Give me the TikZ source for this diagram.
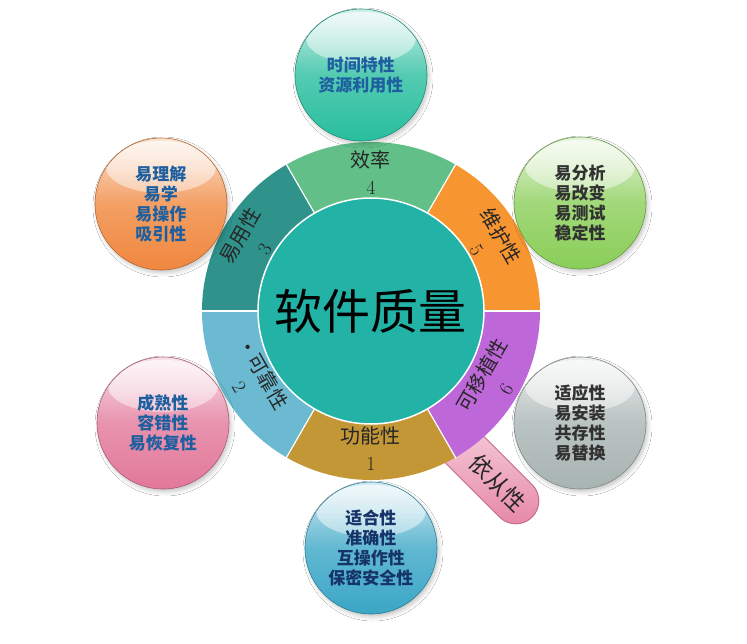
\documentclass[tikz,border=0pt]{standalone}
\usepackage{fontspec}
\newfontfamily\cjk{Noto Sans CJK SC}
\usetikzlibrary{calc,fadings,shadows.blur}

\definecolor{cEff}{RGB}{80,184,122}
\definecolor{cUse}{RGB}{24,134,126}
\definecolor{cRel}{RGB}{90,178,204}
\definecolor{cFun}{RGB}{188,140,32}
\definecolor{cPor}{RGB}{182,86,212}
\definecolor{cMai}{RGB}{246,137,26}
\definecolor{cCore}{RGB}{34,178,166}
\definecolor{bTeal}{RGB}{40,190,158}
\definecolor{bOrange}{RGB}{240,135,62}
\definecolor{bGreen}{RGB}{138,206,88}
\definecolor{bPink}{RGB}{226,120,154}
\definecolor{bGray}{RGB}{168,180,178}
\definecolor{bBlue}{RGB}{58,166,198}
\definecolor{tBlue}{RGB}{30,95,160}
\definecolor{tGray}{RGB}{50,50,50}
\definecolor{tNavy}{RGB}{22,52,105}
\definecolor{cPill}{RGB}{230,130,165}

\newcommand\segshade[2]{\pgfdeclareradialshading{seg#1}{\pgfpoint{0bp}{0bp}}{color(0bp)=(#2!90!white); color(33.4bp)=(#2!90!white); color(38bp)=(#2); color(47bp)=(#2); color(50bp)=(#2!80!black)}}
\segshade{Eff}{cEff}
\segshade{Use}{cUse}
\segshade{Rel}{cRel}
\segshade{Fun}{cFun}
\segshade{Por}{cPor}
\segshade{Mai}{cMai}

\newcommand\ringseg[3]{%
  \begin{scope}
    \clip (#2:169pt) arc[start angle=#2,end angle=#3,radius=169pt] -- (#3:113pt) arc[start angle=#3,end angle=#2,radius=113pt] -- cycle;
    \shade[shading=seg#1] (0,0) circle (169pt);
  \end{scope}}

\tikzset{
  bubble/.style={circle, minimum size=132pt, inner sep=0pt, draw=#1!75!black, line width=0.6pt,
    top color=#1!22!white, bottom color=#1, middle color=#1!80!white, align=center,
    font=\cjk\bfseries\fontsize{17}{20}\selectfont,
    blur shadow={shadow xshift=2pt,shadow yshift=-3pt,shadow blur radius=4pt,shadow opacity=22},
    path picture={\fill[white,path fading=south,fill opacity=0.7]
      ([yshift=37pt]path picture bounding box.center) ellipse (55pt and 26pt);}},
  seglabel/.style={align=center, font=\fontsize{20}{27}\selectfont, text=black!85, inner sep=0pt},
  pillbox/.style={rectangle, rounded corners=23pt, minimum width=153pt, minimum height=46pt,
    rotate=-45, draw=cPill!85!black, line width=1pt, top color=cPill!25!white, bottom color=cPill},
}

\begin{document}
\begin{tikzpicture}[x=1pt,y=1pt]
\fill[white] (-371pt,-332pt) rectangle (376pt,311pt);
\useasboundingbox (-371pt,-332pt) rectangle (376pt,311pt);

% pill behind ring
\node[pillbox] (pill) at (107pt,-152pt) {};
\node[rotate=-45, font=\cjk\fontsize{23}{23}\selectfont, text=black!85] (pillt) at (127pt,-172pt) {依从性};

% ring
\ringseg{Mai}{0}{60}
\ringseg{Eff}{60}{120}
\ringseg{Use}{120}{180}
\ringseg{Rel}{180}{240}
\ringseg{Fun}{240}{300}
\ringseg{Por}{300}{360}
\foreach \a in {0,60,...,300} \draw[white, line width=1.2pt] (\a:112pt) -- (\a:170pt);

\node[circle, minimum size=226pt, fill=cCore, draw=white, line width=1.5pt, text=black,
  font=\cjk\fontsize{48}{48}\selectfont] (core) at (0,0) {软件质量};

\node[seglabel] (l4) at (90:138pt) {{\cjk 效率}\\4};
\node[seglabel, rotate=-60] (l5) at (30:137pt) {{\cjk 维护性}\\5};
\node[seglabel, rotate=60] (l3) at (150:138pt) {{\cjk 易用性}\\3};
\node[seglabel, rotate=-60] (l2) at (210:137pt) {{\cjk ·可靠性}\\2};
\node[seglabel] (l1) at (270:138pt) {{\cjk 功能性}\\1};
\node[seglabel, rotate=60] (l6) at (330:141pt) {{\cjk 可移植性}\\6};

% bubbles
\node[bubble=bTeal, text=tBlue] (bEff) at (-10pt,236pt) {时间特性\\资源利用性};
\node[bubble=bOrange, text=tBlue] (bUse) at (-210pt,107pt) {易理解\\易学\\易操作\\吸引性};
\node[bubble=bGreen, text=tGray] (bMai) at (209pt,108pt) {易分析\\易改变\\易测试\\稳定性};
\node[bubble=bPink, text=tBlue] (bRel) at (-208pt,-112pt) {成熟性\\容错性\\易恢复性};
\node[bubble=bGray, text=tGray] (bPor) at (209pt,-112pt) {适应性\\易安装\\共存性\\易替换};
\node[bubble=bBlue, text=tNavy] (bFun) at (0pt,-237pt) {适合性\\准确性\\互操作性\\保密安全性};
\end{tikzpicture}
\end{document}
